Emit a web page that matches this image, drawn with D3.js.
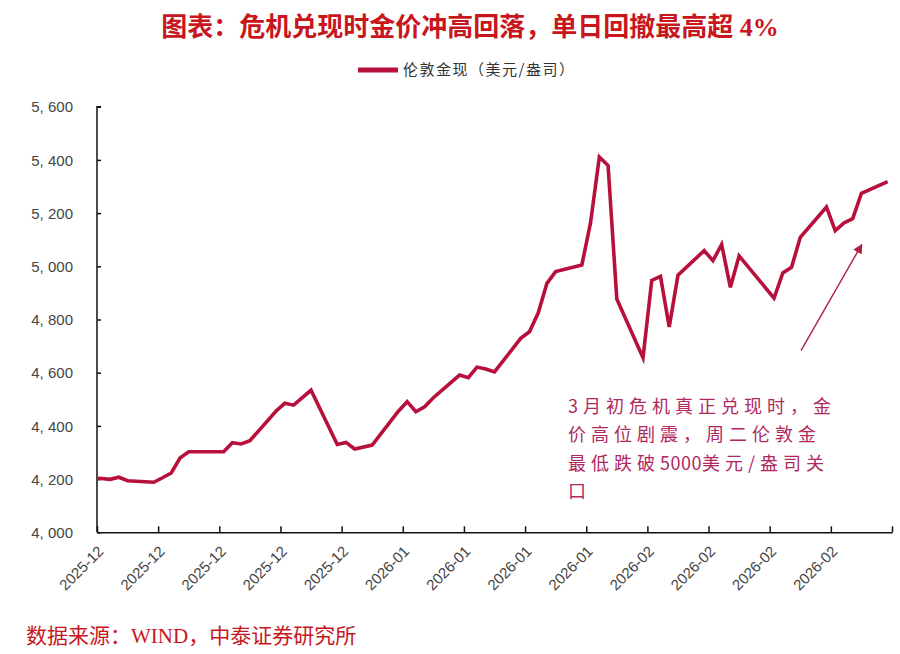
<!DOCTYPE html>
<html><head><meta charset="utf-8">
<script src="https://cdn.jsdelivr.net/npm/d3@7/dist/d3.min.js"></script>
<style>body{margin:0;background:#fff}svg{display:block}</style>
</head><body><svg id="c" width="900" height="654"></svg>
<script>
const titleText = "图表：危机兑现时金价冲高回落，单日回撤最高超 4%";
const seriesName = "伦敦金现（美元/盎司）";
const dates = ["2025-12-01","2025-12-02","2025-12-03","2025-12-04","2025-12-05",
"2025-12-08","2025-12-09","2025-12-10","2025-12-11","2025-12-12",
"2025-12-15","2025-12-16","2025-12-17","2025-12-18","2025-12-19",
"2025-12-22","2025-12-23","2025-12-24","2025-12-26",
"2025-12-29","2025-12-30","2025-12-31","2026-01-02",
"2026-01-05","2026-01-06","2026-01-07","2026-01-08","2026-01-09",
"2026-01-12","2026-01-13","2026-01-14","2026-01-15","2026-01-16",
"2026-01-19","2026-01-20","2026-01-21","2026-01-22","2026-01-23",
"2026-01-26","2026-01-27","2026-01-28","2026-01-29","2026-01-30",
"2026-02-02","2026-02-03","2026-02-04","2026-02-05","2026-02-06",
"2026-02-09","2026-02-10","2026-02-11","2026-02-12","2026-02-13",
"2026-02-17","2026-02-18","2026-02-19","2026-02-20",
"2026-02-23","2026-02-24","2026-02-25","2026-02-26","2026-02-27",
"2026-03-02"];
const prices = [4204,4202,4199,4207,4194,
4188,4205,4223,4279,4303,
4303,4303,4337,4332,4344,
4456,4485,4478,4534,
4330,4338,4313,4328,
4455,4491,4453,4472,4506,
4591,4581,4621,4614,4603,
4729,4754,4824,4936,4980,
5005,5165,5411,5379,4877,
4656,4947,4962,4772,4967,
5059,5021,5082,4921,5039,
4880,4975,4996,5109,
5223,5134,5163,5179,5274,
5318];
const yTicks = [4000,4200,4400,4600,4800,5000,5200,5400,5600];
const xStart = "2025-12-02", xEnd = "2026-03-03";
const noteLines = [["3月初危机真正兑现时，金"],["价高位剧震，周二伦敦金"],["最低跌破","5000","美元/盎司关"],["口"]];
const arrowFrom = {date:"2026-02-20", hour:14, value:4683};
const arrowTo = {date:"2026-02-27", hour:13, value:5082};
const sourceText = "数据来源：WIND，中泰证券研究所";

const parse = d3.timeParse("%Y-%m-%d");
const data = dates.map((d,i)=>({t:d3.timeHour.offset(parse(d),12), v:prices[i]}));

const svg = d3.select("#c");
const L=97, R=892, T=106.7, B=532.3;
const x = d3.scaleTime().domain([parse(xStart), parse(xEnd)]).range([L,R]);
const y = d3.scaleLinear().domain([4000,5600]).range([B,T]);

const lineColor = "#b8103c";
const red = "#c8161d";

// title
svg.append("text").attr("x",470).attr("y",36).attr("text-anchor","middle")
  .attr("font-family","'Liberation Serif','Noto Sans CJK SC',serif").attr("font-weight","bold")
  .attr("font-size",26).attr("fill",red).text(titleText);

// legend
svg.append("line").attr("x1",358).attr("x2",398).attr("y1",70).attr("y2",70)
  .attr("stroke",lineColor).attr("stroke-width",5);
svg.append("text").attr("x",403).attr("y",75).attr("font-family","'Noto Sans CJK SC',sans-serif")
  .attr("font-size",15).attr("letter-spacing",1.5).attr("fill","#333").text(seriesName);

// clip
svg.append("defs").append("clipPath").attr("id","clip").append("rect")
  .attr("x",L).attr("y",T-20).attr("width",R-L).attr("height",B-T+20);

// y axis
const yAxis = d3.axisRight(y).tickValues(yTicks).tickSize(4)
  .tickFormat(d=>d3.format(",")(d).replace(",", ", "));
const gy = svg.append("g").attr("transform",`translate(${L},0)`).call(yAxis);
gy.select(".domain").attr("stroke","#111").attr("stroke-width",1.5).attr("d",`M${4},${T}H0V${B}`);
gy.selectAll(".tick line").attr("stroke","#111").attr("stroke-width",1.5);
gy.selectAll(".tick text").attr("x",-24).attr("text-anchor","end").attr("dy","0.35em")
  .attr("font-family","'Liberation Sans',Arial,sans-serif").attr("font-size",15).attr("fill","#444");

// x axis
const xTickVals = d3.timeTuesday.range(parse(xStart), d3.timeDay.offset(parse(xEnd),1));
const lastTick = xTickVals[xTickVals.length-1];
const xAxis = d3.axisTop(x).tickValues(xTickVals).tickSize(6).tickSizeOuter(0)
  .tickFormat(d=> +d===+lastTick ? "" : d3.timeFormat("%Y-%m")(d));
const gx = svg.append("g").attr("transform",`translate(0,${B})`).call(xAxis);
gx.select(".domain").attr("stroke","#111").attr("stroke-width",1.5);
gx.selectAll(".tick line").attr("stroke","#111").attr("stroke-width",1.5);
gx.selectAll(".tick text").attr("y",0).attr("dy",0)
  .attr("transform","translate(7,20) rotate(-45)").attr("text-anchor","end")
  .attr("font-family","'Liberation Sans',Arial,sans-serif").attr("font-size",15).attr("fill","#444");

// series line
const line = d3.line().x(d=>x(d.t)).y(d=>y(d.v));
svg.append("path").datum(data).attr("clip-path","url(#clip)")
  .attr("fill","none").attr("stroke",lineColor).attr("stroke-width",3.6)
  .attr("stroke-linejoin","miter").attr("d",line);

// arrow
const defs = svg.select("defs");
defs.append("marker").attr("id","ah").attr("viewBox","0 0 10 10").attr("refX",9).attr("refY",5)
  .attr("markerWidth",7).attr("markerHeight",7).attr("orient","auto")
  .append("path").attr("d","M0,0L10,5L0,10z").attr("fill","#b0203f");
const ap = o => [x(d3.timeHour.offset(parse(o.date),o.hour)), y(o.value)];
const [ax1,ay1] = ap(arrowFrom), [ax2,ay2] = ap(arrowTo);
svg.append("line").attr("x1",ax1).attr("y1",ay1).attr("x2",ax2).attr("y2",ay2)
  .attr("stroke","#b0203f").attr("stroke-width",1.4).attr("marker-end","url(#ah)");

// annotation
const note = svg.append("text").attr("font-family","'Noto Sans CJK SC',sans-serif")
  .attr("font-size",18).attr("fill","#b0285e");
noteLines.forEach((parts,i)=>{
  parts.forEach((s,j)=>{
    const ts = note.append("tspan").attr("letter-spacing", /^\d+$/.test(s) ? 0.5 : 5).text(s);
    if (j===0) ts.attr("x",568).attr("y",413+i*28.3);
    if (/^\d+$/.test(s)) ts.attr("dx",0);
  });
});

// source
svg.append("text").attr("x",26).attr("y",643)
  .attr("font-family","'Liberation Serif','Noto Sans CJK SC',serif")
  .attr("font-size",21).attr("fill",red).text(sourceText);
</script></body></html>
